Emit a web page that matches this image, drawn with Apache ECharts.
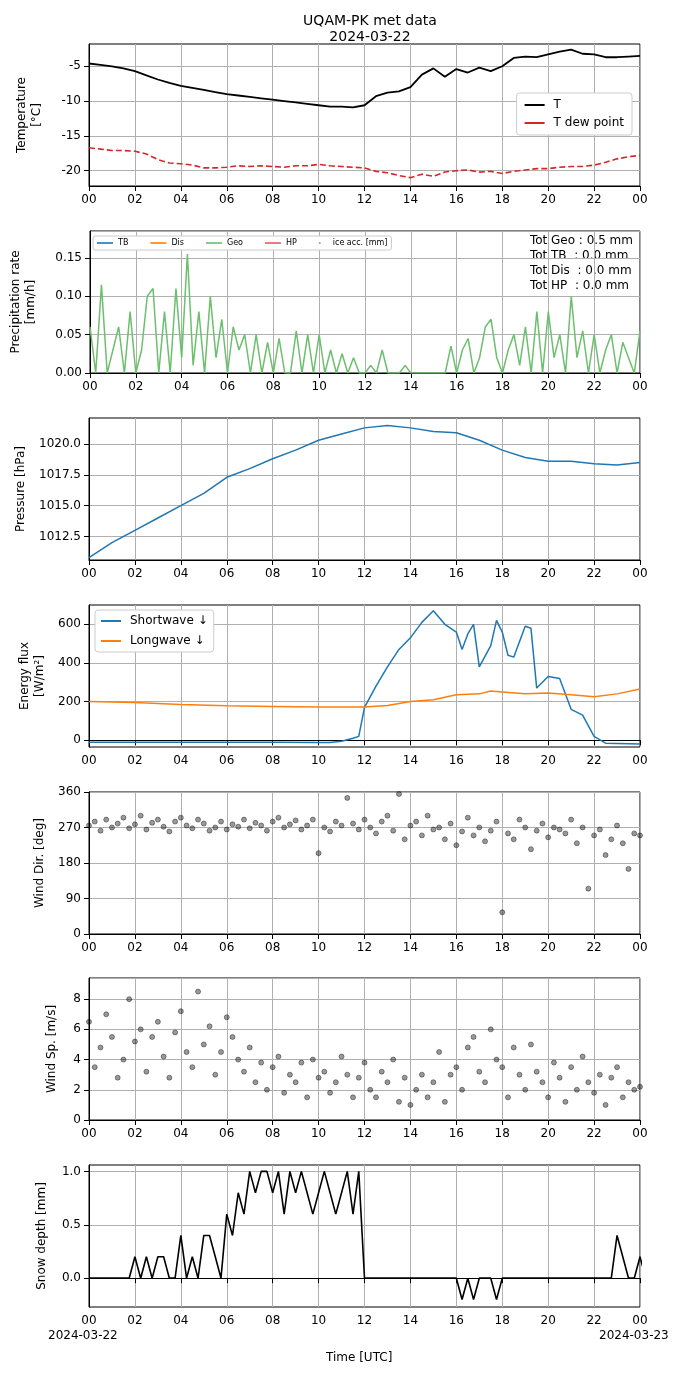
<!DOCTYPE html>
<html><head><meta charset="utf-8">
<script src="https://cdn.jsdelivr.net/npm/echarts@6/dist/echarts.min.js"></script>
<style>html,body{margin:0;background:#fff}#c{width:690px;height:1377px}</style>
</head><body><div id="c"></div>
<script>
// half-hourly temperatures
var tHours = [0,0.5,1,1.5,2,2.5,3,3.5,4,4.5,5,5.5,6,6.5,7,7.5,8,8.5,9,9.5,10,10.5,11,11.5,12,12.5,13,13.5,14,14.5,15,15.5,16,16.5,17,17.5,18,18.5,19,19.5,20,20.5,21,21.5,22,22.5,23,23.5,24];
var temp = [-4.6,-4.8,-5.0,-5.3,-5.7,-6.3,-6.9,-7.4,-7.8,-8.1,-8.4,-8.7,-9.0,-9.2,-9.4,-9.6,-9.8,-10.0,-10.2,-10.4,-10.6,-10.8,-10.8,-10.9,-10.6,-9.3,-8.8,-8.6,-8.0,-6.2,-5.3,-6.5,-5.4,-5.9,-5.2,-5.7,-5.0,-3.8,-3.6,-3.7,-3.3,-2.9,-2.6,-3.2,-3.3,-3.7,-3.7,-3.6,-3.5];
var dewPoint = [-16.7,-16.9,-17.1,-17.1,-17.2,-17.6,-18.4,-18.9,-19.0,-19.2,-19.6,-19.6,-19.5,-19.3,-19.4,-19.3,-19.4,-19.5,-19.3,-19.3,-19.1,-19.3,-19.4,-19.5,-19.6,-20.1,-20.3,-20.7,-21.0,-20.5,-20.8,-20.2,-20.0,-19.9,-20.2,-20.1,-20.4,-20.1,-19.9,-19.7,-19.7,-19.5,-19.4,-19.4,-19.2,-18.8,-18.3,-18.0,-17.8];

// 15-min precipitation rate (Geo)
var precipGeo = [0.06,0,0.115,0,0.03,0.06,0,0.08,0,0.03,0.1,0.11,0,0.08,0,0.11,0.02,0.155,0.01,0.08,0,0.1,0.02,0.07,0,0.06,0.03,0.05,0,0.05,0,0.04,0,0.045,0,0,0.055,0,0.05,0,0.05,0,0.03,0,0.025,0,0.02,0,0,0.01,0,0.03,0,0,0,0.01,0,0,0,0,0,0,0,0.035,0,0.03,0.045,0,0.02,0.06,0.07,0.02,0,0.03,0.05,0.01,0.06,0,0.08,0,0.08,0.02,0.05,0,0.1,0.02,0.055,0,0.05,0,0.03,0.05,0,0.04,0.02,0,0.055];

var pHours = [0,1,2,3,4,5,6,7,8,9,10,11,12,13,14,15,16,17,18,19,20,21,22,23,24];
var pressure = [1010.8,1012.0,1013.0,1014.0,1015.0,1016.0,1017.3,1018.0,1018.8,1019.5,1020.3,1020.8,1021.3,1021.5,1021.3,1021.0,1020.9,1020.3,1019.5,1018.9,1018.6,1018.6,1018.4,1018.3,1018.5];

var swHours = [0,2,4,6,8,10,10.5,11,11.5,11.75,12,12.5,13,13.5,14,14.5,15,15.5,16,16.25,16.5,16.75,17,17.5,17.75,18,18.25,18.5,19,19.25,19.5,20,20.5,21,21.5,22,22.5,24];
var shortwave = [-10,-10,-10,-10,-10,-12,-12,-5,10,20,170,280,380,470,530,610,670,600,560,470,550,600,380,490,620,560,440,430,590,580,270,330,320,160,130,20,-15,-20];
var lwHours = [0,2,4,6,8,10,12,13,14,15,16,17,17.5,18,19,20,21,22,23,24];
var longwave = [200,195,185,178,175,172,172,180,200,210,235,240,255,250,240,245,235,225,240,265];

// 15-min wind direction / speed samples
var windDir = [275,285,262,290,270,280,295,268,278,300,265,282,290,272,260,285,295,275,268,290,280,262,270,285,265,278,272,290,268,282,275,262,285,295,270,278,288,265,275,290,205,270,260,285,275,345,280,265,290,270,255,285,300,262,355,240,275,285,250,300,265,270,240,280,225,260,295,250,270,235,262,285,55,255,240,290,270,215,262,280,245,270,265,255,290,230,270,115,250,265,200,240,275,230,165,255,250];
var windSpd = [6.5,3.5,4.8,7.0,5.5,2.8,4.0,8.0,5.2,6.0,3.2,5.5,6.5,4.2,2.8,5.8,7.2,4.5,3.5,8.5,5.0,6.2,3.0,4.5,6.8,5.5,4.0,3.2,4.8,2.5,3.8,2.0,3.5,4.2,1.8,3.0,2.5,3.8,1.5,4.0,2.8,3.2,1.8,2.5,4.2,3.0,1.5,2.8,3.8,2.0,1.5,3.2,2.5,4.0,1.2,2.8,1.0,2.0,3.0,1.5,2.5,4.5,1.2,3.0,3.5,2.0,4.8,5.5,3.2,2.5,6.0,4.0,3.5,1.5,4.8,3.0,2.0,5.0,3.2,2.5,1.5,3.8,2.8,1.2,3.5,2.0,4.2,2.5,1.8,3.0,1.0,2.8,3.5,1.5,2.5,2.0,2.2];

// 15-min snow depth
var snowDepth = [0,0,0,0,0,0,0,0,0.2,0,0.2,0,0.2,0.2,0,0,0.4,0,0.2,0,0.4,0.4,0.2,0,0.6,0.4,0.8,0.6,1,0.8,1,1,0.8,1,0.6,1,0.8,1,0.8,0.6,0.8,1,0.8,0.6,0.8,1,0.6,1,0,0,0,0,0,0,0,0,0,0,0,0,0,0,0,0,0,-0.2,0,-0.2,0,0,0,-0.2,0,0,0,0,0,0,0,0,0,0,0,0,0,0,0,0,0,0,0,0,0.4,0.2,0,0,0.2,0];

function pairs(xs, ys){ return ys.map(function(v,i){ return [xs[i], v]; }); }
function q(ys){ return ys.map(function(v,i){ return [i*0.25, v]; }); }

var tops = [44,231,418,605,792,978,1165];
var H = 142;
var grids = tops.map(function(t){ return {left:89, right:50, top:t, height:H, show:true, borderColor:'#000', borderWidth:1}; });
var font = 'DejaVu Sans';
var grey = '#b0b0b0';
function xa(i){
  return {type:'value', gridIndex:i, min:0, max:24, interval:2,
    axisLine:{lineStyle:{color:'#000'}}, axisTick:{lineStyle:{color:'#000'}},
    axisLabel:{color:'#000', fontFamily:font, fontSize:12, formatter:function(v){ var h=v%24; return (h<10?'0':'')+h; }},
    splitLine:{show:true, lineStyle:{color:grey}}};
}
function ya(i, name, o){
  var a = {type:'value', gridIndex:i, name:name, nameLocation:'middle', nameGap:o.gap||50,
    nameTextStyle:{color:'#000', fontFamily:font, fontSize:12, lineHeight:15},
    axisLine:{show:true, lineStyle:{color:'#000'}}, axisTick:{show:true, lineStyle:{color:'#000'}},
    axisLabel:{color:'#000', fontFamily:font, fontSize:12, showMaxLabel:o.showMax!==false},
    splitLine:{show:true, lineStyle:{color:grey}}, min:o.min, max:o.max};
  if (o.interval) a.interval = o.interval;
  if (o.ticks){ a.axisLabel.customValues = o.ticks; a.axisTick.customValues = o.ticks; }
  if (o.fmt) a.axisLabel.formatter = o.fmt;
  return a;
}
function lineIcon(){ return 'path://M0,0H20V2H0Z'; }

var option = {
  animation:false,
  title:{text:'UQAM-PK met data\n2024-03-22', left:365, top:8, textAlign:'center',
    textStyle:{fontFamily:font, fontSize:14, fontWeight:'normal', color:'#000', lineHeight:16}},
  grid:grids,
  xAxis:[0,1,2,3,4,5,6].map(xa),
  yAxis:[
    ya(0,'Temperature\n[°C]',{min:-22.2,max:-1.8,ticks:[-20,-15,-10,-5],gap:45}),
    ya(1,'Precipitation rate\n[mm/h]',{min:0,max:0.185,interval:0.05,gap:52,showMax:false,fmt:function(v){return v.toFixed(2);}}),
    ya(2,'Pressure [hPa]',{min:1010.6,max:1022.1,ticks:[1012.5,1015,1017.5,1020],gap:60,fmt:function(v){return v.toFixed(1);}}),
    ya(3,'Energy flux\n[W/m²]',{min:-35,max:700,ticks:[0,200,400,600],gap:42}),
    ya(4,'Wind Dir. [deg]',{min:0,max:360,interval:90,gap:38}),
    ya(5,'Wind Sp. [m/s]',{min:0,max:9.4,interval:2,gap:30,showMax:false}),
    ya(6,'Snow depth [mm]',{min:-0.27,max:1.06,ticks:[0,0.5,1],gap:40,fmt:function(v){return v.toFixed(1);}})
  ],
  legend:[
    {data:[{name:'T',icon:lineIcon()},{name:'T dew point',icon:lineIcon()}], orient:'vertical', right:58, top:93, padding:[6,8], itemGap:6,
      backgroundColor:'#fff', borderColor:'#ccc', borderWidth:1, borderRadius:3, itemWidth:28, itemHeight:2,
      textStyle:{fontFamily:font, fontSize:12, color:'#000'}},
    {data:[{name:'TB',icon:lineIcon()},{name:'Dis',icon:lineIcon()},{name:'Geo',icon:lineIcon()},{name:'HP',icon:lineIcon()},{name:'ice acc. [mm]',icon:'circle'}], left:93, top:236, padding:[3,4], itemGap:22,
      backgroundColor:'#fff', borderColor:'#ccc', borderWidth:1, borderRadius:2, itemWidth:16, itemHeight:2,
      textStyle:{fontFamily:font, fontSize:8, color:'#000'}},
    {data:[{name:'Shortwave ↓',icon:lineIcon()},{name:'Longwave ↓',icon:lineIcon()}], orient:'vertical', left:95, top:610, padding:[5,6], itemGap:8,
      backgroundColor:'#fff', borderColor:'#ccc', borderWidth:1, borderRadius:3, itemWidth:28, itemHeight:2,
      textStyle:{fontFamily:font, fontSize:12, color:'#000'}}
  ],
  graphic:[
    {type:'text', right:57, top:233, style:{text:'Tot Geo : 0.5 mm\nTot TB  : 0.0 mm\nTot Dis  : 0.0 mm\nTot HP  : 0.0 mm', align:'right', font:'12px DejaVu Sans', fill:'#000', lineHeight:15}},
    {type:'text', left:48, top:1330, style:{text:'2024-03-22', font:'12px DejaVu Sans', fill:'#000'}},
    {type:'text', left:599, top:1330, style:{text:'2024-03-23', font:'12px DejaVu Sans', fill:'#000'}},
    {type:'text', left:326, top:1352, style:{text:'Time [UTC]', font:'12px DejaVu Sans', fill:'#000'}}
  ],
  series:[
    {name:'T', type:'line', xAxisIndex:0, yAxisIndex:0, data:pairs(tHours,temp), showSymbol:false, lineStyle:{color:'#000',width:1.8}, itemStyle:{color:'#000'}},
    {name:'T dew point', type:'line', xAxisIndex:0, yAxisIndex:0, data:pairs(tHours,dewPoint), showSymbol:false, lineStyle:{color:'#d62728',width:1.6,type:[6,3]}, itemStyle:{color:'#d62728'}},
    {name:'TB', type:'line', xAxisIndex:1, yAxisIndex:1, data:[], itemStyle:{color:'#1f77b4'}, lineStyle:{color:'#1f77b4'}},
    {name:'Dis', type:'line', xAxisIndex:1, yAxisIndex:1, data:[], itemStyle:{color:'#ff7f0e'}, lineStyle:{color:'#ff7f0e'}},
    {name:'Geo', type:'line', xAxisIndex:1, yAxisIndex:1, data:q(precipGeo), showSymbol:false, itemStyle:{color:'#6cbf6c'}, lineStyle:{color:'#6cbf6c',width:1.5}},
    {name:'HP', type:'line', xAxisIndex:1, yAxisIndex:1, data:[], itemStyle:{color:'#e06060'}, lineStyle:{color:'#e06060'}},
    {name:'ice acc. [mm]', type:'scatter', xAxisIndex:1, yAxisIndex:1, data:[], symbolSize:5, itemStyle:{color:'#9467bd'}},
    {name:'Pressure', type:'line', xAxisIndex:2, yAxisIndex:2, data:pairs(pHours,pressure), showSymbol:false, lineStyle:{color:'#1f77b4',width:1.5}},
    {name:'Shortwave ↓', type:'line', xAxisIndex:3, yAxisIndex:3, data:pairs(swHours,shortwave), showSymbol:false, itemStyle:{color:'#1f77b4'}, lineStyle:{color:'#1f77b4',width:1.5}},
    {name:'Longwave ↓', type:'line', xAxisIndex:3, yAxisIndex:3, data:pairs(lwHours,longwave), showSymbol:false, itemStyle:{color:'#ff7f0e'}, lineStyle:{color:'#ff7f0e',width:1.5}},
    {name:'WD', type:'scatter', xAxisIndex:4, yAxisIndex:4, data:q(windDir), symbolSize:5, itemStyle:{color:'rgba(0,0,0,0.5)', borderColor:'#000', borderWidth:0.5}},
    {name:'WS', type:'scatter', xAxisIndex:5, yAxisIndex:5, data:q(windSpd), symbolSize:5, itemStyle:{color:'rgba(0,0,0,0.5)', borderColor:'#000', borderWidth:0.5}},
    {name:'Snow', type:'line', xAxisIndex:6, yAxisIndex:6, data:q(snowDepth), showSymbol:false, lineStyle:{color:'#000',width:1.6}}
  ]
};
echarts.init(document.getElementById('c')).setOption(option);
</script></body></html>
